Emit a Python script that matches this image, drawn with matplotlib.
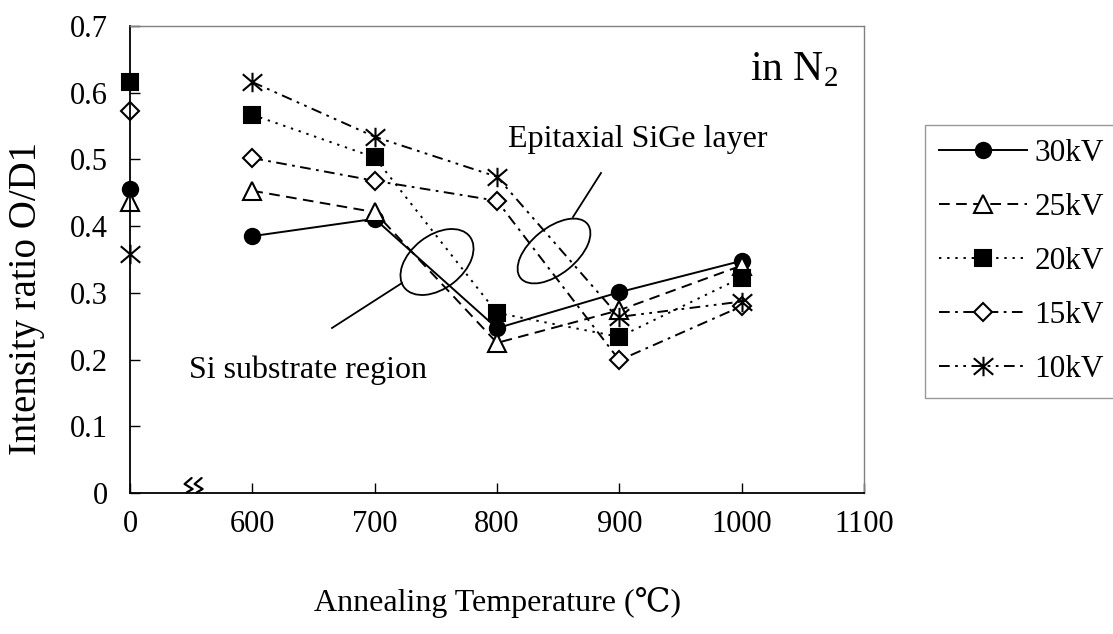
import matplotlib
matplotlib.use('Agg')
import matplotlib.pyplot as plt
from matplotlib.patches import Ellipse
from matplotlib.path import Path

# ---------------- data ----------------
temps = [600, 700, 800, 900, 1000]
series_labels = ['30kV', '25kV', '20kV', '15kV', '10kV']
v30 = [0.385, 0.411, 0.247, 0.301, 0.348]
v25 = [0.453, 0.421, 0.225, 0.274, 0.341]
v20 = [0.567, 0.503, 0.270, 0.234, 0.323]
v15 = [0.502, 0.468, 0.438, 0.199, 0.280]
v10 = [0.616, 0.534, 0.474, 0.264, 0.287]
# values at 0 (as-deposited, shown left of the axis break)
zero_vals = [0.456, 0.436, 0.616, 0.573, 0.358]
ZERO_POS = 500          # axis position used for the "0" category
BREAK_POS = 552         # axis position of the break symbol
x_ticks = [500, 600, 700, 800, 900, 1000, 1100]
x_tick_labels = ['0', '600', '700', '800', '900', '1000', '1100']
y_ticks = [0, 0.1, 0.2, 0.3, 0.4, 0.5, 0.6, 0.7]
y_tick_labels = ['0', '0.1', '0.2', '0.3', '0.4', '0.5', '0.6', '0.7']

# ---------------- style ----------------
plt.rcParams['font.family'] = ['Liberation Serif', 'DejaVu Serif', 'Noto Sans CJK SC']
plt.rcParams['mathtext.fontset'] = 'custom'
plt.rcParams['mathtext.rm'] = 'Liberation Serif'
FS_TICK = 22
FS_LAB = 23
FS_ANN = 23
FS_LEG = 22.5

W, H = 1113, 634
fig = plt.figure(figsize=(W / 100, H / 100), dpi=100)
L, R, T, B = 130, 864, 26, 493
ax = fig.add_axes([L / W, 1 - B / H, (R - L) / W, (B - T) / H])

star = Path([(0, -1), (0, 1), (-1, -0.85), (1, 0.85), (-1, 0.85), (1, -0.85)],
            [Path.MOVETO, Path.LINETO, Path.MOVETO, Path.LINETO, Path.MOVETO, Path.LINETO])

styles = [
    dict(marker='o', mfc='black', ms=11, ls='-'),
    dict(marker='^', mfc='white', ms=12.5, ls=(0, (5.5, 3.3))),
    dict(marker='s', mfc='black', ms=11.5, ls=(0, (1.2, 3.0))),
    dict(marker='D', mfc='white', ms=9, ls=(0, (5.5, 2.8, 1.4, 2.8))),
    dict(marker=star, mfc='none', ms=14, ls=(0, (5.5, 2.8, 1.4, 2.8, 1.4, 2.8))),
]
series = [v30, v25, v20, v15, v10]

for vals, z, lab, st in zip(series, zero_vals, series_labels, styles):
    ax.plot(temps, vals, color='black', lw=1.4, linestyle=st['ls'], marker=st['marker'],
            ms=st['ms'], mfc=st['mfc'], mec='black', mew=1.5, label=lab, clip_on=False)
    ax.plot([ZERO_POS], [z], color='black', lw=0, marker=st['marker'],
            ms=st['ms'], mfc=st['mfc'], mec='black', mew=1.5, clip_on=False)

ax.set_xlim(500, 1100)
ax.set_ylim(0, 0.7)
ax.set_xticks(x_ticks)
ax.set_xticklabels(x_tick_labels)
ax.set_yticks(y_ticks)
ax.set_yticklabels(y_tick_labels)
ax.tick_params(axis='both', direction='in', length=7, width=1, labelsize=FS_TICK, colors='black')
ax.tick_params(axis='y', pad=16)
ax.tick_params(axis='x', pad=12)
for s in ['left', 'bottom']:
    ax.spines[s].set_color('black')
    ax.spines[s].set_linewidth(1.3)
for s in ['top', 'right']:
    ax.spines[s].set_color('#808080')
    ax.spines[s].set_linewidth(1.0)

fig.text(497 / W, 1 - 602 / H, 'Annealing Temperature (℃)', ha='center', va='center',
         fontsize=FS_LAB)
fig.text(27 / W, 1 - 298 / H, 'Intensity ratio O/D1', ha='center', va='center',
         rotation=90, fontsize=28)

# ---------------- overlay (pixel coordinates) for annotations ----------------
ov = fig.add_axes([0, 0, 1, 1], zorder=5)
ov.set_xlim(0, W)
ov.set_ylim(H, 0)
ov.axis('off')
ov.patch.set_alpha(0)

ov.add_patch(Ellipse((437, 262), 83, 53, angle=-38, fill=False, ec='black', lw=1.3))
ov.plot([402, 332], [283, 328], color='black', lw=1.3)
ov.add_patch(Ellipse((554, 251), 86, 46, angle=-39, fill=False, ec='black', lw=1.3))
ov.plot([573, 601], [217, 173], color='black', lw=1.3)

ov.text(427, 378, 'Si substrate region', ha='right', va='baseline', fontsize=FS_ANN)
ov.text(768, 147, 'Epitaxial SiGe layer', ha='right', va='baseline', fontsize=FS_ANN)
ov.text(750, 80, 'in N$_{2}$', ha='left', va='baseline', fontsize=30)

# axis break symbol on the x axis
bx, by = ax.transData.transform((BREAK_POS, 0))
by = H - by
for dx in (-5, 5):
    cx = bx + dx
    ov.plot([cx + 3, cx - 4, cx + 4, cx - 2], [by - 15, by - 9, by - 4, by - 0.5],
            color='black', lw=1.6, solid_joinstyle='round', solid_capstyle='round')

# legend
leg = fig.legend(loc='upper left', bbox_to_anchor=(925 / W, 1 - 125 / H), borderaxespad=0,
                 fontsize=FS_LEG, frameon=True, fancybox=False, edgecolor='#808080',
                 handlelength=2.8, handletextpad=0.25, labelspacing=0.8, borderpad=0.45)
leg.get_frame().set_linewidth(1.0)

fig.savefig('out.png', dpi=100)
